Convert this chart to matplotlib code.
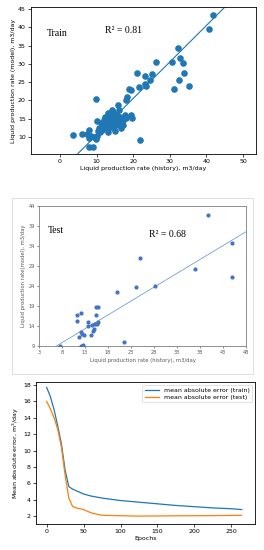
import numpy as np
import matplotlib
matplotlib.use("Agg")
import matplotlib.pyplot as plt
from matplotlib.patches import Rectangle

# train scatter: history vs model
train_hist = [3.5, 5.9, 7.5, 7.9, 8.0, 8.6, 8.0, 9.1, 9.4, 9.9, 10.0, 9.9, 10.2, 10.7, 10.9,
              11.1, 11.4, 11.8, 12.0, 12.3, 12.5, 12.7, 12.9, 13.2, 13.4, 13.6, 13.9, 14.1,
              14.1, 14.4, 14.5, 14.8, 15.0, 15.3, 15.5, 15.6, 15.9, 16.1, 16.4, 16.5, 16.8,
              17.1, 17.3, 17.7, 18.0, 18.0, 18.4, 18.9, 19.5, 19.4, 19.8, 21.1, 21.6, 21.8,
              23.2, 23.2, 23.5, 24.7, 25.0, 26.2, 30.5, 32.2, 32.5, 32.7, 33.5, 31.1, 33.8,
              35.3, 40.7, 41.8, 11.5, 12.2, 13.0, 13.8, 14.6, 15.2, 14.0, 12.4, 16.2, 10.5]
train_model = [10.5, 10.8, 10.8, 11.9, 9.8, 10.1, 7.1, 7.3, 9.9, 9.4, 10.1, 20.3, 14.2, 12.4, 11.2,
               13.9, 11.9, 12.6, 14.6, 15.4, 13.3, 14.1, 12.4, 11.2, 14.8, 16.0, 15.1, 17.4,
               14.5, 13.6, 12.8, 14.6, 11.7, 15.6, 14.2, 16.0, 18.8, 17.4, 15.4, 13.7, 12.4,
               13.3, 14.6, 16.0, 15.1, 20.1, 20.8, 23.0, 22.7, 16.0, 15.1, 27.4, 23.6, 9.1,
               26.7, 24.5, 23.9, 25.6, 27.2, 30.5, 30.5, 34.4, 25.6, 31.7, 30.3, 23.2, 27.6,
               24.0, 39.4, 43.4, 13.0, 15.0, 16.5, 14.0, 16.8, 13.2, 12.8, 15.2, 14.8, 11.6]

# test scatter
test_hist = [39.8, 25.0, 44.9, 45.0, 37.0, 28.2, 24.0, 20.0, 15.3, 15.8, 15.4, 11.3, 12.2, 11.2,
             13.7, 13.6, 15.2, 15.5, 15.8, 14.5, 14.9, 14.8, 12.1, 12.3, 11.6, 12.7, 14.2,
             12.2, 12.6, 21.5, 7.6]
test_model = [41.8, 30.9, 34.6, 26.1, 28.2, 24.0, 23.7, 22.5, 18.7, 18.6, 16.8, 16.8, 17.2, 15.2,
              15.1, 13.9, 14.6, 14.5, 14.9, 14.3, 13.3, 12.8, 12.5, 12.1, 11.3, 11.7, 11.7,
              9.1, 9.2, 10.0, 9.0]

# training history
epochs = [0, 5, 10, 15, 20, 25, 30, 35, 40, 50, 60, 75, 100, 125, 150, 175, 200, 225, 250, 264]
mae_train = [17.7, 16.6, 15.0, 13.0, 10.8, 7.6, 5.6, 5.3, 5.1, 4.7, 4.45, 4.2, 3.9, 3.7, 3.5,
             3.3, 3.15, 3.0, 2.9, 2.8]
mae_test = [16.0, 15.1, 14.0, 12.6, 10.4, 7.0, 4.2, 3.2, 3.0, 2.8, 2.4, 2.1, 2.05, 2.0, 2.02,
            2.04, 2.05, 2.06, 2.08, 2.1]

fig = plt.figure(figsize=(2.64, 5.5), dpi=100)

# ---- train panel
ax1 = fig.add_axes([0.116, 0.72, 0.852, 0.267])
ax1.scatter(train_hist, train_model, s=14, color="C0", zorder=3)
xx = np.array([-10, 60])
ax1.plot(xx, xx + 0.5, color="C0", lw=0.8)
ax1.set_xlim(-8, 53.4)
ax1.set_ylim(5.3, 45.5)
ax1.set_xticks([0, 10, 20, 30, 40, 50])
ax1.set_yticks([10, 15, 20, 25, 30, 35, 40, 45])
ax1.tick_params(labelsize=4.5, length=2, width=0.5, pad=1.5)
for s in ax1.spines.values():
    s.set_linewidth(0.6)
ax1.set_xlabel("Liquid production rate (history), m3/day", fontsize=4.5, labelpad=1.5)
ax1.set_ylabel("Liquid production rate (model), m3/day", fontsize=4.5, labelpad=1.5)
ax1.text(-0.7, 38.3, "Train", fontsize=7, family="Liberation Serif", ha="center", va="center")
ax1.text(17.3, 39.1, "R² = 0.81", fontsize=7, family="Liberation Serif", ha="center", va="center")

# ---- test panel (excel-like)
fig.patches.append(Rectangle((12 / 264, 1 - 374 / 550), 241 / 264, 176 / 550,
                             transform=fig.transFigure, fill=False,
                             edgecolor="#d9d9d9", lw=0.6))
ax2 = fig.add_axes([0.148, 0.371, 0.784, 0.255])
ax2.scatter(test_hist, test_model, s=4, color="#4472C4", zorder=3)
xt = np.array([6.8, 48])
ax2.plot(xt, 0.692 * xt + 4.3, color="#5b8bd6", lw=0.5)
ax2.set_xlim(3, 48)
ax2.set_ylim(9, 44)
ax2.set_xticks(np.arange(3, 49, 5))
ax2.set_yticks(np.arange(9, 45, 5))
ax2.tick_params(labelsize=3.6, length=1.5, width=0.5, pad=1.5, colors="#595959")
for s in ax2.spines.values():
    s.set_linewidth(0.6)
    s.set_color("#7f7f7f")
ax2.set_xlabel("Liquid production rate (history), m3/day", fontsize=3.8, color="#595959", labelpad=2)
ax2.set_ylabel("Liquid production rate(model), m3/day", fontsize=3.8, color="#595959", labelpad=2)
ax2.text(6.7, 37.8, "Test", fontsize=7, family="Liberation Serif", ha="center", va="center")
ax2.text(31, 36.9, "R² = 0.68", fontsize=7, family="Liberation Serif", ha="center", va="center")

# ---- loss panel
ax3 = fig.add_axes([0.135, 0.047, 0.831, 0.259])
ax3.plot(epochs, mae_train, color="C0", lw=0.9, label="mean absolute error (train)")
ax3.plot(epochs, mae_test, color="C1", lw=0.9, label="mean absolute error (test)")
ax3.set_xlim(-14.9, 282)
ax3.set_ylim(1.02, 18.4)
ax3.set_xticks([0, 50, 100, 150, 200, 250])
ax3.set_yticks([2, 4, 6, 8, 10, 12, 14, 16, 18])
ax3.tick_params(labelsize=4.5, length=2, width=0.5, pad=1.5)
for s in ax3.spines.values():
    s.set_linewidth(0.6)
ax3.set_xlabel("Epochs", fontsize=4.5, labelpad=1.5)
ax3.set_ylabel("Mean absolute error, m$^3$/day", fontsize=4.5, labelpad=1.5)
ax3.legend(loc="upper right", fontsize=4.5, handlelength=2.2, borderpad=0.4, labelspacing=0.3,
           frameon=True, fancybox=True, framealpha=0.8, edgecolor="#cccccc").get_frame().set_linewidth(0.5)

fig.savefig("out.png", dpi=100)
